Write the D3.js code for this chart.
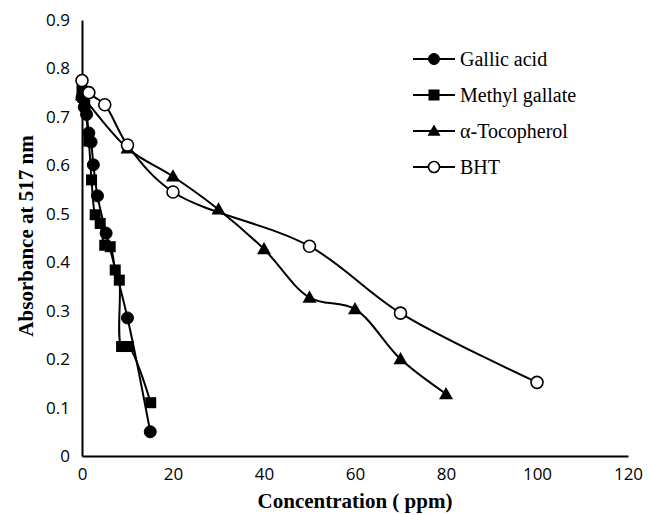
<!DOCTYPE html>
<html><head><meta charset="utf-8">
<script src="https://cdn.jsdelivr.net/npm/d3@7"></script>
<style>body{margin:0;background:#fff}</style>
</head><body>
<svg id="c" width="649" height="515"></svg>
<script>
const seriesNames = ["Gallic acid", "Methyl gallate", "α-Tocopherol", "BHT"];
const gallicX = [0, 0.5, 1, 1.5, 2, 2.5, 3.4, 5.3, 10, 15];
const gallicY = [0.74, 0.72, 0.705, 0.667, 0.648, 0.601, 0.537, 0.46, 0.285, 0.05];
const methylX = [0, 0.3, 0.6, 1.5, 2.1, 2.9, 4, 5, 6.2, 7.3, 8.2, 8.7, 10.2, 15.1];
const methylY = [0.755, 0.74, 0.725, 0.65, 0.57, 0.498, 0.48, 0.435, 0.432, 0.384, 0.363, 0.226, 0.226, 0.11];
const tocoX = [0, 10, 20, 30, 40, 50, 60, 70, 80];
const tocoY = [0.745, 0.635, 0.577, 0.509, 0.427, 0.327, 0.303, 0.2, 0.128];
const bhtX = [0, 1.5, 5, 10, 20, 50, 70, 100];
const bhtY = [0.775, 0.75, 0.725, 0.642, 0.545, 0.433, 0.295, 0.152];
const xTicks = [0, 20, 40, 60, 80, 100, 120];
const yTicks = [0, 0.1, 0.2, 0.3, 0.4, 0.5, 0.6, 0.7, 0.8, 0.9];

const svg = d3.select("#c");
const x = d3.scaleLinear().domain([0, 120]).range([82, 628]);
const y = d3.scaleLinear().domain([0, 0.9]).range([456, 20]);

const series = [
  {name: seriesNames[0], xs: gallicX, ys: gallicY, sym: "circle", fill: "#000"},
  {name: seriesNames[1], xs: methylX, ys: methylY, sym: "square", fill: "#000"},
  {name: seriesNames[2], xs: tocoX, ys: tocoY, sym: "triangle", fill: "#000"},
  {name: seriesNames[3], xs: bhtX, ys: bhtY, sym: "circle", fill: "#fff"}
];

// axes
const xAxis = d3.axisBottom(x).tickValues(xTicks).tickSize(0).tickPadding(12).tickFormat(d3.format("d"));
const yAxis = d3.axisLeft(y).tickValues(yTicks).tickSize(0).tickPadding(12).tickFormat(d => d === 0 ? "0" : d3.format(".1f")(d));
const gx = svg.append("g").attr("transform", "translate(0,456)").call(xAxis);
const gy = svg.append("g").attr("transform", "translate(82,0)").call(yAxis);
[gx, gy].forEach(g => {
  g.select(".domain").attr("stroke", "#000").attr("stroke-width", 2);
  g.selectAll("text").attr("font-family", "'Open Sans', sans-serif").attr("font-size", 17).attr("fill", "#000");
});

const sizes = {circle: 6, square: 5.5, triangle: 7};
function drawMarker(g, sym, cx, cy, fill, r) {
  if (sym === "circle") {
    g.append("circle").attr("cx", cx).attr("cy", cy).attr("r", r)
      .attr("fill", fill).attr("stroke", "#000").attr("stroke-width", fill === "#fff" ? 1.6 : 1);
  } else if (sym === "square") {
    g.append("rect").attr("x", cx - r).attr("y", cy - r).attr("width", 2 * r).attr("height", 2 * r).attr("fill", fill);
  } else {
    const h = r * 1.75;
    g.append("path").attr("d", `M${cx},${cy - h * 0.58}L${cx + r},${cy + h * 0.42}L${cx - r},${cy + h * 0.42}Z`).attr("fill", fill);
  }
}

const line = d3.line().x(d => x(d[0])).y(d => y(d[1])).curve(d3.curveCatmullRom.alpha(0.5));
const plot = svg.append("g");
series.forEach(s => {
  const pts = s.xs.map((v, i) => [v, s.ys[i]]);
  plot.append("path").attr("d", line(pts)).attr("fill", "none").attr("stroke", "#000").attr("stroke-width", 2);
});
series.forEach(s => {
  const g = plot.append("g");
  s.xs.forEach((v, i) => drawMarker(g, s.sym, x(v), y(s.ys[i]), s.fill, sizes[s.sym]));
});

// legend
const lg = svg.append("g");
series.forEach((s, i) => {
  const yy = 59 + i * 36;
  lg.append("line").attr("x1", 413).attr("x2", 455).attr("y1", yy).attr("y2", yy).attr("stroke", "#000").attr("stroke-width", 2);
  drawMarker(lg, s.sym, 434, yy, s.fill, s.sym === "triangle" ? 6.5 : 5.5);
  lg.append("text").attr("x", 460).attr("y", yy).attr("dy", "0.35em")
    .attr("font-family", "'Liberation Serif', 'Times New Roman', serif").attr("font-size", 20).attr("fill", "#000").text(s.name);
});

// axis titles
svg.append("text").attr("x", 355).attr("y", 508).attr("text-anchor", "middle")
  .attr("font-family", "'Liberation Serif', 'Times New Roman', serif").attr("font-weight", "bold").attr("font-size", 21)
  .text("Concentration ( ppm)");
svg.append("text").attr("transform", "translate(33,236) rotate(-90)").attr("text-anchor", "middle")
  .attr("font-family", "'Liberation Serif', 'Times New Roman', serif").attr("font-weight", "bold").attr("font-size", 21)
  .text("Absorbance at 517 nm");
</script>
</body></html>
